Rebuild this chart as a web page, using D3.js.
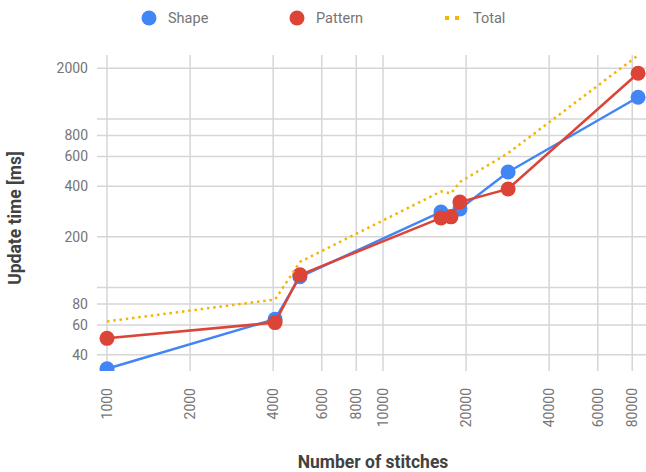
<!DOCTYPE html>
<html><head><meta charset="utf-8">
<script src="https://cdn.jsdelivr.net/npm/d3@7"></script>
<style>body{margin:0;background:#fff}svg{display:block;font-family:Roboto,Arial,sans-serif}</style>
</head><body><svg id="c" width="646" height="472"></svg>
<script>
const shapeX = [1000, 4064, 5000, 16220, 19000, 28400, 84000];
const shapeY = [33, 65, 116, 281, 293, 485, 1348];
const patternX = [1000, 4064, 5000, 16220, 17630, 19000, 28400, 84000];
const patternY = [50, 62, 119, 259, 263, 322, 385, 1870];
const totalX = [1000, 4064, 5000, 16220, 17630, 19000, 28400, 84000];
const totalY = [63, 85, 142, 372, 362, 423, 628, 2390];
const xTicks = [1000, 2000, 4000, 6000, 8000, 10000, 20000, 40000, 60000, 80000];
const yGrid = [40, 60, 80, 100, 200, 400, 600, 800, 1000, 2000];
const yLabels = [40, 60, 80, 200, 400, 600, 800, 2000];
const seriesNames = ["Shape", "Pattern", "Total"];
const colors = ["#4285F4", "#DB4437", "#F4B400"];

(function () {
const svg = d3.select("#c");
const pTop = 55, pBottom = 371, pLeft = 107;
const x = d3.scaleLog().domain([1000, 100000]).range([pLeft, pLeft + 2 * 276]);
const y = d3.scaleLog().domain([32, 2400]).range([pBottom, pTop]);

svg.append("defs").append("clipPath").attr("id", "clip")
  .append("rect").attr("x", 0).attr("y", pTop).attr("width", 646).attr("height", pBottom - pTop);

const grid = svg.append("g");
grid.selectAll("line.h").data(yGrid).join("line").attr("class", "h")
  .attr("x1", 97).attr("x2", 646)
  .attr("y1", d => y(d)).attr("y2", d => y(d))
  .attr("stroke", "#d6d6d6").attr("stroke-width", 1.5);
grid.selectAll("line.v").data(xTicks).join("line").attr("class", "v")
  .attr("x1", d => x(d)).attr("x2", d => x(d))
  .attr("y1", pTop).attr("y2", pBottom)
  .attr("stroke", "#d6d6d6").attr("stroke-width", 1.5);

svg.append("g").selectAll("text").data(yLabels).join("text")
  .attr("x", 88).attr("y", d => y(d)).attr("dy", "0.35em")
  .attr("text-anchor", "end").attr("font-size", 14).attr("fill", "#757575")
  .text(d => d);

svg.append("g").selectAll("text").data(xTicks).join("text")
  .attr("transform", d => `translate(${x(d)},388) rotate(-90)`)
  .attr("dy", "0.35em").attr("text-anchor", "end")
  .attr("font-size", 14).attr("fill", "#757575")
  .text(d => d);

const plot = svg.append("g").attr("clip-path", "url(#clip)");
const line = d3.line().x(d => x(d[0])).y(d => y(d[1]));
const shapeData = shapeX.map((v, i) => [v, shapeY[i]]);
const patternData = patternX.map((v, i) => [v, patternY[i]]);
const totalData = totalX.map((v, i) => [v, totalY[i]]);

[[shapeData, colors[0]], [patternData, colors[1]]].forEach(([data, col]) => {
  plot.append("path").datum(data).attr("d", line)
    .attr("fill", "none").attr("stroke", col).attr("stroke-width", 2.5);
  plot.append("g").selectAll("circle").data(data).join("circle")
    .attr("cx", d => x(d[0])).attr("cy", d => y(d[1])).attr("r", 7.5)
    .attr("fill", col);
});
plot.append("path").datum(totalData).attr("d", line)
  .attr("fill", "none").attr("stroke", colors[2]).attr("stroke-width", 2.5)
  .attr("stroke-dasharray", "2.5,3.8");

const leg = svg.append("g");
const legX = [149, 297, 447];
leg.append("circle").attr("cx", legX[0]).attr("cy", 18).attr("r", 7.5).attr("fill", colors[0]);
leg.append("circle").attr("cx", legX[1]).attr("cy", 18).attr("r", 7.5).attr("fill", colors[1]);
leg.append("line").attr("x1", legX[2] - 2).attr("x2", legX[2] + 14).attr("y1", 18).attr("y2", 18)
  .attr("stroke", colors[2]).attr("stroke-width", 4).attr("stroke-dasharray", "4,6");
seriesNames.forEach((n, i) => {
  leg.append("text").attr("x", legX[i] + (i === 2 ? 26 : 19)).attr("y", 18).attr("dy", "0.35em")
    .attr("font-size", 14.5).attr("fill", "#757575").text(n);
});

svg.append("text").attr("transform", "translate(15,218) rotate(-90)")
  .attr("text-anchor", "middle").attr("dy", "0.35em")
  .attr("font-size", 17.5).attr("font-weight", "bold").attr("fill", "#424242").text("Update time [ms]");
svg.append("text").attr("x", 373).attr("y", 462).attr("dy", "0.35em")
  .attr("text-anchor", "middle").attr("font-size", 17.5).attr("font-weight", "bold")
  .attr("fill", "#424242").text("Number of stitches");
})();
</script></body></html>
